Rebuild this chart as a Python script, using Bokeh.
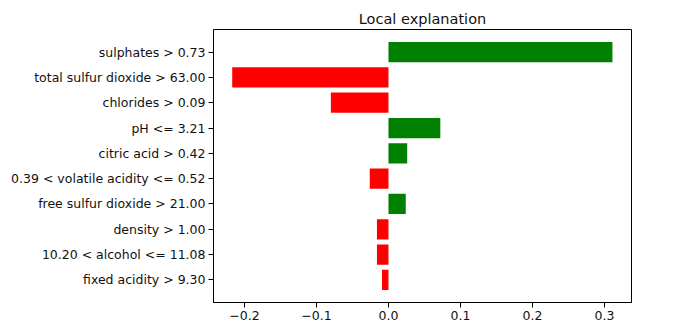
from bokeh.plotting import figure
from bokeh.models import FactorRange, ColumnDataSource, FixedTicker
from bokeh.embed import file_html
from bokeh.resources import INLINE

features = [
    "sulphates > 0.73",
    "total sulfur dioxide > 63.00",
    "chlorides > 0.09",
    "pH <= 3.21",
    "citric acid > 0.42",
    "0.39 < volatile acidity <= 0.52",
    "free sulfur dioxide > 21.00",
    "density > 1.00",
    "10.20 < alcohol <= 11.08",
    "fixed acidity > 9.30",
]
weights = [0.311, -0.217, -0.080, 0.072, 0.026, -0.026, 0.024, -0.016, -0.016, -0.009]
x_ticks = [-0.2, -0.1, 0.0, 0.1, 0.2, 0.3]

colors = ["green" if w > 0 else "red" for w in weights]
src = ColumnDataSource(dict(feature=features, weight=weights, color=colors))

factors = list(reversed(features))
p = figure(
    width=680, height=335,
    y_range=FactorRange(factors=factors, range_padding=0.078, range_padding_units="percent"),
    x_range=(-0.243, 0.3375),
    output_backend="svg", toolbar_location=None,
    title="Local explanation",
    min_border_left=213, min_border_right=49, min_border_top=29, min_border_bottom=33,
)
p.hbar(y="feature", left=0, right="weight", height=0.8, color="color", source=src,
       line_color=None)

p.title.align = "center"
p.title.text_font = "DejaVu Sans"
p.title.text_font_size = "14.5px"
p.title.text_font_style = "normal"
p.title.text_color = "#111111"
p.title.offset = 0
p.title.standoff = 5

p.xaxis.ticker = FixedTicker(ticks=x_ticks)
p.xaxis.major_label_overrides = {t: f"{t:.1f}".replace("-", "\u2212") for t in x_ticks}
for ax in (p.xaxis, p.yaxis):
    ax.major_label_text_font = "DejaVu Sans"
    ax.major_label_text_font_size = "12.5px"
    ax.major_label_text_color = "#111111"
    ax.axis_line_color = "black"
    ax.major_tick_line_color = "black"
    ax.major_tick_out = 5
    ax.major_tick_in = 0
    ax.minor_tick_line_color = None
    ax.major_label_standoff = 3
p.xgrid.visible = False
p.ygrid.visible = False
p.outline_line_color = "black"
p.outline_line_width = 1

open("out.html", "w").write(file_html(p, INLINE))
